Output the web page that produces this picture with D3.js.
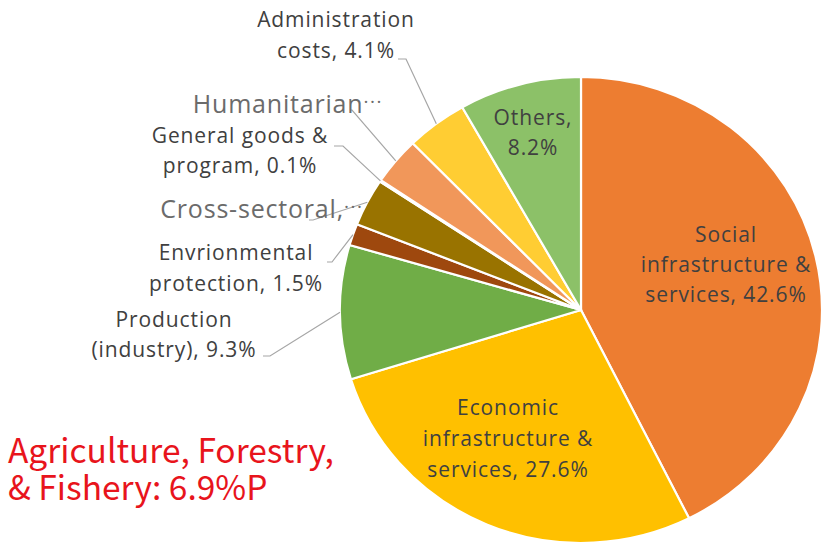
<!DOCTYPE html>
<html>
<head>
<meta charset="utf-8">
<script src="https://cdn.jsdelivr.net/npm/d3@7"></script>
<style>
  html, body { margin: 0; padding: 0; background: #fff; }
  svg { display: block; }
</style>
</head>
<body>
<svg id="chart" width="822" height="546"></svg>
<script>
// ODA by sector: share of total (%), clockwise from 12 o'clock
const sectors = [
  "Social infrastructure & services",
  "Economic infrastructure & services",
  "Production (industry)",
  "Envrionmental protection",
  "Cross-sectoral",
  "General goods & program",
  "Humanitarian",
  "Administration costs",
  "Others"
];
const shares = [42.6, 27.6, 9.3, 1.5, 3.3, 0.1, 3.3, 4.1, 8.2];
const labelLines = [
  ["Social", "infrastructure &", "services, 42.6%"],
  ["Economic", "infrastructure &", "services, 27.6%"],
  ["Production", "(industry), 9.3%"],
  ["Envrionmental", "protection, 1.5%"],
  ["Cross-sectoral,"],
  ["General goods &", "program, 0.1%"],
  ["Humanitarian"],
  ["Administration", "costs, 4.1%"],
  ["Others,", "8.2%"]
];
const noteLines = ["Agriculture, Forestry,", "& Fishery: 6.9%P"];

const colors = ["#ED7D31", "#FFC000", "#70AD47", "#9E480E", "#997300",
                "#43682B", "#F1975A", "#FFCD33", "#8CC168"];

// Geometry of the (slightly wide) pie
const cx = 581, cy = 310, rx = 241, ry = 233;
const sx = rx / ry;

// Label layout: centre x, first baseline y, line height; truncated labels get a "···";
// lead = [start x, start y, end of short horizontal run]
const layout = [
  { x: 726, y: 242, lh: 30 },
  { x: 508, y: 415, lh: 31 },
  { x: 174, y: 327, lh: 30, lead: [263, 356, 270] },
  { x: 236, y: 260, lh: 31, lead: [327, 262, 332] },
  { x: 262, y: 218, lh: 31, big: true, cut: true, lead: [309, 220, 313] },
  { x: 240, y: 143, lh: 30, lead: [334, 146, 343] },
  { x: 288, y: 113, lh: 31, big: true, cut: true, lead: [350, 110, 352] },
  { x: 336, y: 27, lh: 31, lead: [398, 59, 406] },
  { x: 533, y: 125, lh: 30 }
];

const svg = d3.select("#chart");

const pie = d3.pie().sort(null).value(d => d).startAngle(0).endAngle(2 * Math.PI);
const arcs = pie(shares);
const arc = d3.arc().innerRadius(0).outerRadius(ry);

const g = svg.append("g")
  .attr("transform", `translate(${cx},${cy}) scale(${sx},1)`);

g.selectAll("path.slice")
  .data(arcs)
  .join("path")
  .attr("class", "slice")
  .attr("d", arc)
  .attr("fill", (d, i) => colors[i])
  .attr("stroke", "#fff")
  .attr("stroke-width", 2.2)
  .attr("stroke-linejoin", "round")
  .style("vector-effect", "non-scaling-stroke");

// Point on the rim at the middle of a slice, in page coordinates
function rimPoint(d) {
  const a = (d.startAngle + d.endAngle) / 2;
  return [cx + Math.sin(a) * rx, cy - Math.cos(a) * ry];
}

// Leader lines for outside labels
arcs.forEach((d, i) => {
  const L = layout[i];
  if (!L.lead) return;
  const [x0, y0, x1] = L.lead;
  const p = rimPoint(d);
  svg.append("polyline")
    .attr("points", `${x0},${y0} ${x1},${y0} ${p[0]},${p[1]}`)
    .attr("fill", "none")
    .attr("stroke", "#A6A6A6")
    .attr("stroke-width", 1.2);
});

// Slice labels
arcs.forEach((d, i) => {
  const L = layout[i];
  const t = svg.append("text")
    .attr("x", L.x)
    .attr("y", L.y)
    .attr("text-anchor", "middle")
    .attr("font-family", "'Open Sans', 'Noto Sans', sans-serif")
    .attr("font-size", L.big ? 25 : 21)
    .attr("letter-spacing", L.big ? 0.8 : 0.9)
    .attr("fill", L.big ? "#6b6b6b" : "#404040");
  labelLines[i].forEach((line, j) => {
    t.append("tspan")
      .attr("x", L.x)
      .attr("dy", j === 0 ? 0 : L.lh)
      .text(line);
  });
  if (L.cut) {
    t.append("tspan")
      .attr("font-size", 19)
      .attr("dy", -5)
      .attr("letter-spacing", 1.6)
      .text("\u00B7\u00B7\u00B7");
  }
});

// Highlight note
noteLines.forEach((line, j) => {
  svg.append("text")
    .attr("x", 8)
    .attr("y", 463 + j * 37)
    .attr("font-family", "'Noto Sans CJK KR', 'Noto Sans', sans-serif")
    .attr("font-size", 33.5)
    .attr("fill", "#E8141C")
    .text(line);
});
</script>
</body>
</html>
